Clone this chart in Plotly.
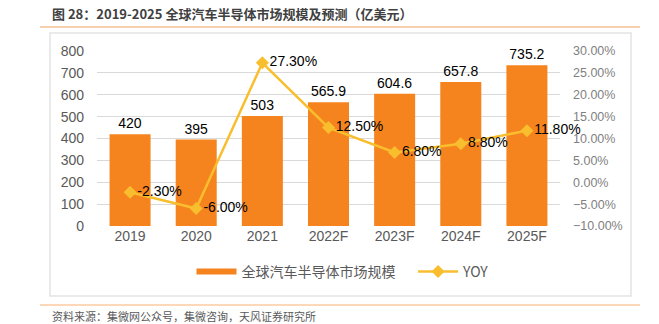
import plotly.graph_objects as go

categories = ["2019", "2020", "2021", "2022F", "2023F", "2024F", "2025F"]
market_size = [420, 395, 503, 565.9, 604.6, 657.8, 735.2]
yoy = [-0.023, -0.060, 0.273, 0.125, 0.068, 0.088, 0.118]
bar_labels = ["420", "395", "503", "565.9", "604.6", "657.8", "735.2"]
yoy_labels = ["-2.30%", "-6.00%", "27.30%", "12.50%", "6.80%", "8.80%", "11.80%"]

W, H = 659, 324
L, R, T, B = 97, 99, 51, 98
PW, PH = W - L - R, H - T - B

def px(x):
    return (x - L) / PW

def py(y):
    return (H - B - y) / PH

FONT = "Liberation Sans, Arial, Noto Sans CJK SC"
CJK = "Noto Sans CJK SC, Liberation Sans"
BAR_C = "#F5841F"
LINE_C = "#F9BE2E"

fig = go.Figure()
fig.add_trace(go.Bar(
    x=categories, y=market_size, name="全球汽车半导体市场规模", showlegend=False,
    marker=dict(color=BAR_C, line=dict(width=0)),
    text=bar_labels, textposition="outside", cliponaxis=False,
    textfont=dict(color="#000000", size=14, family=FONT),
))
# legend proxy for the bar series (wide swatch)
fig.add_trace(go.Scatter(
    x=[None], y=[None], name="全球汽车半导体市场规模&nbsp;&nbsp;&nbsp;&nbsp;", mode="lines",
    line=dict(color=BAR_C, width=6),
))
fig.add_trace(go.Scatter(
    x=categories, y=yoy, name="YOY", yaxis="y2", mode="lines+markers+text",
    line=dict(color=LINE_C, width=2.5),
    marker=dict(symbol="diamond", size=10, color=LINE_C),
    text=yoy_labels, textposition="middle right", cliponaxis=False,
    textfont=dict(color="#000000", size=14, family=FONT),
))

fig.update_layout(
    width=W, height=H, margin=dict(l=L, r=R, t=T, b=B),
    paper_bgcolor="white", plot_bgcolor="white",
    font=dict(family=FONT, color="#595959", size=14),
    bargap=0.38, showlegend=True,
    xaxis=dict(showgrid=False, tickfont=dict(size=14, color="#595959"), ticks="", showline=False),
    yaxis=dict(range=[0, 800], dtick=100, showgrid=True, gridcolor="#D9D9D9", gridwidth=1,
               zeroline=False, tickfont=dict(size=14, color="#595959"), ticks="", ticklabelstandoff=12),
    yaxis2=dict(range=[-0.10, 0.30], dtick=0.05, tickformat=".2%", overlaying="y", side="right",
                showgrid=False, zeroline=False, tickfont=dict(size=12.5, color="#7F7F7F"),
                ticklabelstandoff=12),
    legend=dict(orientation="h", x=px(343), xanchor="center", y=py(272), yanchor="middle",
                font=dict(size=14, color="#595959", family=CJK), itemwidth=40,
                bgcolor="rgba(0,0,0,0)"),
    shapes=[
        dict(type="rect", xref="paper", yref="paper", x0=px(50), x1=px(631), y0=py(296), y1=py(33),
             line=dict(color="#E3E3E3", width=1.5), layer="below"),
        dict(type="line", xref="paper", yref="paper", x0=px(40), x1=px(640), y0=py(27), y1=py(27),
             line=dict(color="#EBA05E", width=1.2)),
        dict(type="line", xref="paper", yref="paper", x0=px(40), x1=px(640), y0=py(305), y1=py(305),
             line=dict(color="#FBCBA0", width=1.5)),
    ],
    annotations=[
        dict(text="<b>图 28：2019-2025 全球汽车半导体市场规模及预测（亿美元）</b>", xref="paper", yref="paper",
             x=px(50), y=py(14), xanchor="left", yanchor="middle", showarrow=False,
             font=dict(size=13, color="#404040", family=CJK)),
        dict(text="资料来源：集微网公众号，集微咨询，天风证券研究所", xref="paper", yref="paper",
             x=px(50), y=py(316), xanchor="left", yanchor="middle", showarrow=False,
             font=dict(size=11, color="#595959", family=CJK)),
    ],
)

fig.write_html("out.html")
